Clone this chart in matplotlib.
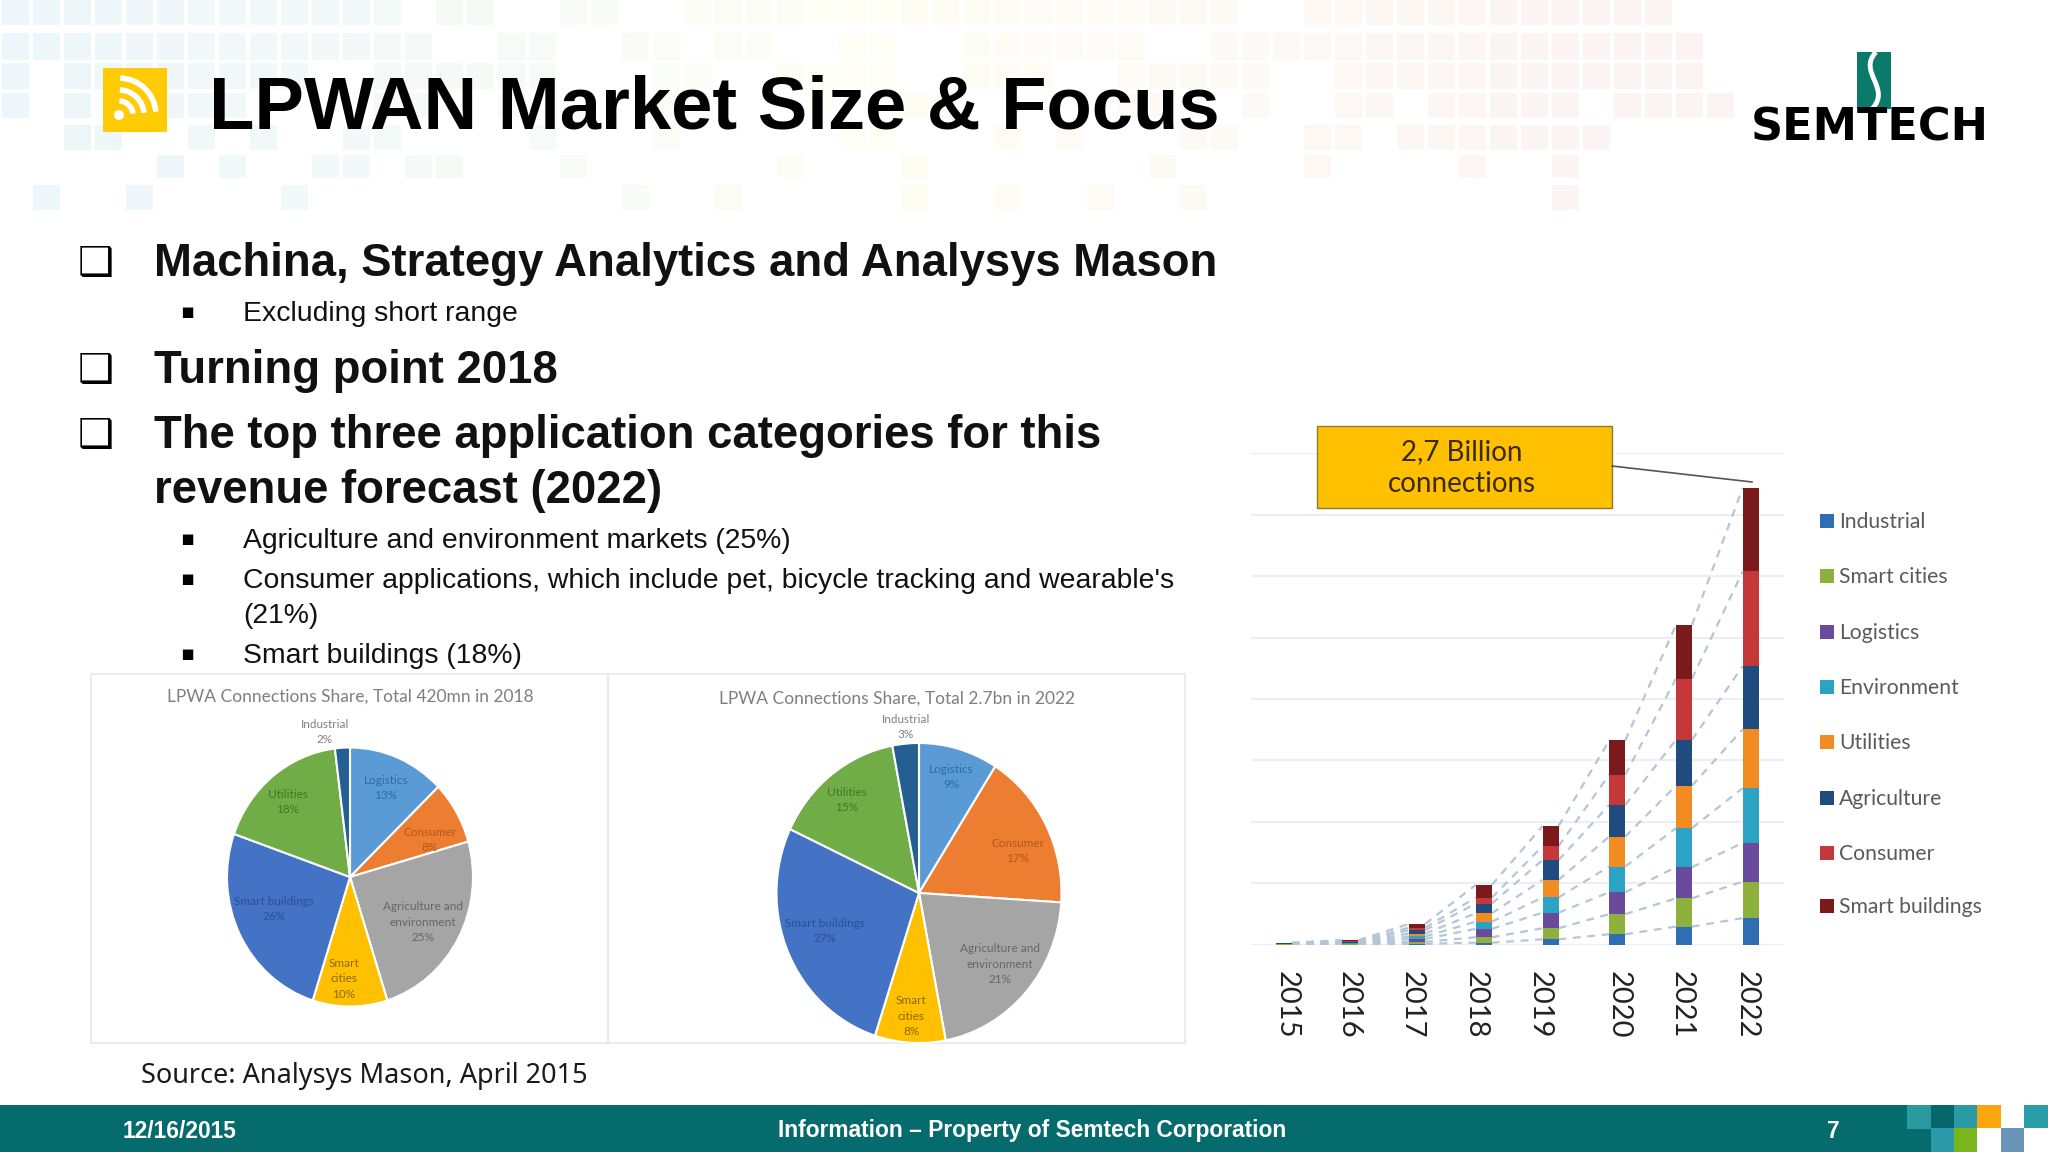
import numpy as np
import matplotlib
matplotlib.use('Agg')
import matplotlib.pyplot as plt
from matplotlib.patches import Rectangle, Arc, Circle, PathPatch
from matplotlib.path import Path

W, H = 2048, 1152

# stacked bars, millions of connections
years = ['2015', '2016', '2017', '2018', '2019', '2020', '2021', '2022']
industrial = [0.5, 1, 5, 12, 32, 62, 107, 157]
smart_cities = [1, 2, 12, 32, 65, 119, 167, 216]
logistics = [1, 3, 17, 50, 92, 129, 184, 229]
environment = [1.5, 3, 15, 42, 90, 152, 231, 323]
utilities = [2, 4, 17, 50, 104, 177, 251, 348]
agriculture = [2, 4, 20, 57, 117, 187, 271, 373]
consumer = [2, 4, 15, 35, 82, 179, 361, 560]
smart_buildings = [2, 6, 22, 75, 119, 202, 318, 493]

series_names = ['Industrial', 'Smart cities', 'Logistics', 'Environment',
                'Utilities', 'Agriculture', 'Consumer', 'Smart buildings']
series_values = [industrial, smart_cities, logistics, environment,
                 utilities, agriculture, consumer, smart_buildings]
series_colors = ['#2f6eb5', '#8db13c', '#6a4a9c', '#2ba3c4',
                 '#f28c22', '#1f4b7f', '#c5383a', '#7a1a1a']

# pies
pie_names = ['Logistics', 'Consumer', 'Agriculture and\nenvironment',
             'Smart\ncities', 'Smart buildings', 'Utilities', 'Industrial']
share_2018 = [13, 8, 25, 10, 26, 18, 2]
share_2022 = [9, 17, 21, 8, 27, 15, 3]
pie_colors = ['#5b9bd5', '#ed7d31', '#a5a5a5', '#ffc000', '#4472c4', '#70ad47', '#255e91']
pie_text_colors = ['#2f6aa6', '#b3561c', '#666666', '#8a6a00', '#2c4f96', '#44752a', '#808080']

plt.rcParams['font.family'] = ['Liberation Sans', 'DejaVu Sans']
CHART_FONT = 'Lato'

fig = plt.figure(figsize=(W / 100, H / 100), dpi=100, facecolor='white')


def px_axes(x0, y0, x1, y1, z):
    ax = fig.add_axes([x0 / W, 1 - y1 / H, (x1 - x0) / W, (y1 - y0) / H], zorder=z)
    ax.patch.set_alpha(0)
    return ax


# background layer in pixel coordinates
bg = px_axes(0, 0, W, H, 0)
bg.set_xlim(0, W)
bg.set_ylim(H, 0)
bg.axis('off')

tile_rows = [
    '11111111111110110011001111111111111111110011111111111100',
    '11111111111111001100110110011001111110011111111111111110',
    '10111111110011111100011001111001110011111001111111111110',
    '10100111000011001000011000100110000011001001101111101111',
    '00110010100110000100010000011000101000110011011111110000',
    '00000101001101100010000001000100000001000010000100100000',
    '01001000010000000000100100000100100100100000000000100000',
]
tile_y = [(0, 25), (33, 60), (63, 89), (93, 118), (125, 150), (155, 178), (185, 210)]
left_col = np.array([236, 246, 251])
mid_col = np.array([254, 254, 244])
right_col = np.array([252, 243, 243])
for (y0, y1), row in zip(tile_y, tile_rows):
    for c, v in enumerate(row):
        if v == '1':
            x = 2 + c * 31
            t = x / 1700
            col = left_col + (mid_col - left_col) * t * 2 if t < .5 else mid_col + (right_col - mid_col) * (t - .5) * 2
            bg.add_patch(Rectangle((x, y0), 27, y1 - y0, fc=col / 255, ec='none'))

# footer
bg.add_patch(Rectangle((0, 1105), W, 47, fc='#056b6d', ec='none'))
foot_tiles = [(1907, 1105, '#2b9a9e'), (1931, 1105, '#05666c'), (1954, 1105, '#2a9aa5'),
              (1977, 1105, '#f9a60f'), (2001, 1105, '#ffffff'), (2024, 1105, '#2a9ea8'),
              (1931, 1128, '#2b9aa8'), (1954, 1128, '#7ab51d'), (1977, 1128, '#ffffff'),
              (2001, 1128, '#6a94b8'), (2024, 1128, '#ffffff')]
for x, y, c in foot_tiles:
    bg.add_patch(Rectangle((x, y), 24, 24, fc=c, ec='none'))
bg.text(123, 1131, '12/16/2015', color='white', fontsize=16.4, fontweight='bold', va='center')
bg.text(1032, 1131, 'Information – Property of Semtech Corporation', color='white',
        fontsize=16.4, fontweight='bold', va='center', ha='center')
bg.text(1833, 1131, '7', color='white', fontsize=16.4, fontweight='bold', va='center', ha='center')

# rss icon
bg.add_patch(Rectangle((103, 68), 64, 64, fc='#ffcb05', ec='none'))
bg.add_patch(Circle((119, 115), 5, fc='white', ec='none'))
for r in [14, 25, 37]:
    bg.add_patch(Arc((119, 115), 2 * r, 2 * r, theta1=272, theta2=355, color='white', lw=4))

# title and logo
bg.text(209, 109, 'LPWAN Market Size & Focus', fontsize=53.5, fontweight='bold', color='black', va='center')
bg.add_patch(Rectangle((1857, 52), 34, 57, fc='#0b7a6a', ec='none'))
s_path = Path([(1876, 52), (1857, 72), (1892, 88), (1872, 109)],
              [Path.MOVETO, Path.CURVE4, Path.CURVE4, Path.CURVE4])
bg.add_patch(PathPatch(s_path, fc='none', ec='white', lw=3.5))
bg.text(1870, 128, 'SEMTECH', family='DejaVu Sans', fontweight='bold', fontsize=32,
        color='black', ha='center', va='center')

# slide text
for y in [264, 371, 436]:
    bg.text(96, y, '❑', family='DejaVu Sans', fontweight='bold', fontsize=29, ha='center', va='center', color='black')
headings = [(264, 'Machina, Strategy Analytics and Analysys Mason'),
            (371, 'Turning point 2018'),
            (436, 'The top three application categories for this'),
            (491, 'revenue forecast (2022)')]
for y, s in headings:
    bg.text(154, y, s, fontsize=32.8, fontweight='bold', color='#111111', va='center')
subs = [(314, 'Excluding short range', True),
        (541, 'Agriculture and environment markets (25%)', True),
        (581, "Consumer applications, which include pet, bicycle tracking and wearable's", True),
        (616, '(21%)', False),
        (656, 'Smart buildings (18%)', True)]
for y, s, bullet in subs:
    if bullet:
        bg.text(187, y - 2, '▪', family='DejaVu Sans', fontsize=15, ha='center', va='center', color='black')
    bg.text(243, y, s, fontsize=20.4, color='#111111', va='center')
bg.text(141, 1076, 'Source: Analysys Mason, April 2015', family='Noto Sans', fontsize=19.5,
        color='#1a1a1a', va='center')

# pie frames
bg.add_patch(Rectangle((91, 674), 517, 369, fc='white', ec='#ebebeb', lw=1.5))
bg.add_patch(Rectangle((608, 674), 577, 369, fc='white', ec='#ebebeb', lw=1.5))


def draw_pie(cx, cy, rx, ry, values):
    ax = px_axes(cx - rx, cy - ry, cx + rx, cy + ry, 2)
    ax.pie(values, colors=pie_colors, startangle=90, counterclock=False,
           wedgeprops={'edgecolor': 'white', 'linewidth': 1.5})
    ax.set_aspect('auto')
    ax.set_xlim(-1, 1)
    ax.set_ylim(-1, 1)
    for w in ax.patches:
        w.set_clip_on(False)
    return ax


draw_pie(350, 877, 123, 129.5, share_2018)
draw_pie(919, 893, 142.5, 150, share_2022)

# stacked bars
chart = px_axes(1251, 453.4, 1784, 944.7, 2)
positions = np.arange(len(years))
bar_w = 0.24
bottom = np.zeros(len(years))
for vals, name, color in zip(series_values, series_names, series_colors):
    vals = np.array(vals, dtype=float)
    chart.bar(positions, vals, bar_w, bottom=bottom, color=color, label=name, zorder=3)
    bottom = bottom + vals
    # series lines joining the stacks
    for i in range(len(years) - 1):
        chart.plot([positions[i] + bar_w / 2, positions[i + 1] - bar_w / 2],
                   [bottom[i], bottom[i + 1]], color='#b4c6d8', lw=1.6,
                   ls=(0, (3.5, 3)), zorder=2)
grid_step = 363
chart.set_xlim(-0.49, 7.5)
chart.set_ylim(0, grid_step * 8)
chart.set_yticks(np.arange(0, grid_step * 9, grid_step))
chart.set_xticks([])
chart.tick_params(left=False, labelleft=False)
chart.grid(axis='y', color='#eceef3', lw=1.6, zorder=0)
for sp in chart.spines.values():
    sp.set_visible(False)

# top layer
top = px_axes(0, 0, W, H, 4)
top.set_xlim(0, W)
top.set_ylim(H, 0)
top.axis('off')

# year labels sit a little off the bars in the picture
year_label_x = [1287, 1349, 1412, 1476, 1540, 1619, 1682, 1747]
for x, y in zip(year_label_x, years):
    top.text(x, 1005, y, rotation=270, family=CHART_FONT, fontsize=21, color='#222222',
             ha='center', va='center')

# legend
legend_y = [522, 577, 633, 688, 743, 799, 854, 907]
for y, name, color in zip(legend_y, series_names, series_colors):
    top.add_patch(Rectangle((1820, y - 8), 14, 14, fc=color, ec='none'))
    top.text(1839, y, name, family=CHART_FONT, fontsize=15.2, color='#5a5a5a', va='center')

# callout
top.add_patch(Rectangle((1317, 426), 295, 82, fc='#ffc000', ec='#8a7a30', lw=1))
top.text(1462, 468, '2,7 Billion\nconnections', family=CHART_FONT, fontsize=20, color='#3a2a05',
         ha='center', va='center', linespacing=1.3)
top.plot([1612, 1752], [466, 482], color='#555555', lw=1.2)

# pie titles and labels
top.text(350, 697, 'LPWA Connections Share, Total 420mn in 2018', family=CHART_FONT,
         fontsize=12.5, color='#7f7f7f', ha='center', va='center')
top.text(897, 699, 'LPWA Connections Share, Total 2.7bn in 2022', family=CHART_FONT,
         fontsize=12.5, color='#7f7f7f', ha='center', va='center')

label_xy_2018 = [(386, 788), (430, 840), (423, 922), (344, 979), (274, 909), (288, 802), (325, 732)]
label_xy_2022 = [(951, 777), (1018, 851), (1000, 964), (911, 1016), (825, 931), (847, 800), (906, 727)]
for shares, xys in [(share_2018, label_xy_2018), (share_2022, label_xy_2022)]:
    for name, v, (x, y), c in zip(pie_names, shares, xys, pie_text_colors):
        top.text(x, y, f'{name}\n{v}%', family=CHART_FONT, fontsize=8.5, color=c,
                 ha='center', va='center', linespacing=1.5)

fig.savefig('out.png', dpi=100)
